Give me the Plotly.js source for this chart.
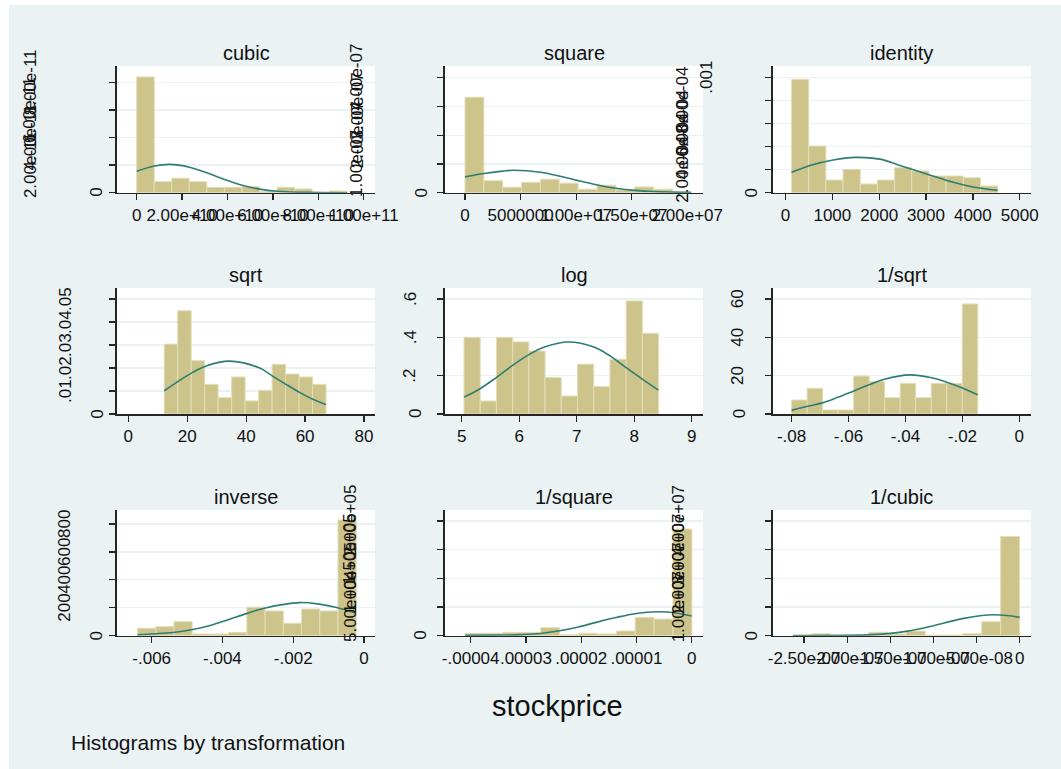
<!DOCTYPE html>
<html>
<head>
<meta charset="utf-8">
<script src="https://cdn.plot.ly/plotly-3.0.1.min.js"></script>
<style>
html,body{margin:0;padding:0;background:#ffffff;}
#chart{width:1061px;height:769px;}
</style>
</head>
<body>
<div id="chart"></div>
<script>
// ---------------- DATA ----------------
const panelNames = ["cubic", "square", "identity", "sqrt", "log", "1/sqrt", "inverse", "1/square", "1/cubic"];

// histogram bins: left edge of the first bin and bin width, per panel
const binStart = [0, 0, 128, 12.18, 5.04, -0.08, -0.0064, -4.1e-5, -2.63e-7];
const binWidth = [7.725e9, 1.696e6, 366.8, 4.577, 0.282, 0.00545, 0.000515, 3.42e-6, 2.19e-8];

// densities (12 bins each)
const cubicDensity    = [8.39e-11, 0.80e-11, 1.05e-11, 0.80e-11, 0.39e-11, 0.39e-11, 0.44e-11, 0.07e-11, 0.39e-11, 0.27e-11, 0, 0.12e-11];
const squareDensity   = [3.32e-7, 0.42e-7, 0.19e-7, 0.36e-7, 0.47e-7, 0.33e-7, 0.12e-7, 0.26e-7, 0.09e-7, 0.20e-7, 0.12e-7, 0.035e-7];
const identityDensity = [9.86e-4, 4.06e-4, 1.10e-4, 2.03e-4, 0.76e-4, 1.10e-4, 2.17e-4, 1.89e-4, 1.45e-4, 1.45e-4, 1.30e-4, 0.58e-4];
const sqrtDensity     = [0.0304, 0.0449, 0.0232, 0.0129, 0.0071, 0.0161, 0.0057, 0.0103, 0.0216, 0.0174, 0.0161, 0.0129];
const logDensity      = [0.40, 0.068, 0.40, 0.376, 0.329, 0.19, 0.094, 0.26, 0.143, 0.286, 0.59, 0.421];
const invSqrtDensity  = [7.3, 13.4, 2.1, 2.1, 19.8, 16.9, 8.5, 16.0, 8.5, 16.0, 16.0, 57.4];
const inverseDensity  = [53, 64.5, 100, 12, 12, 24, 204, 177, 89, 191, 177, 829];
const invSquareDensity= [4200, 4200, 5900, 5900, 13900, 1500, 4200, 3000, 8200, 32000, 29000, 186000];
const invCubicDensity = [3.5e5, 7e5, 2e5, 2e5, 1.2e6, 6e5, 1.6e6, 2e5, 2e5, 7e5, 4.9e6, 3.46e7];

// normal-density overlay curves
const cubicCurveX     = [0, 0.78e10, 1.45e10, 2.32e10, 3.12e10, 3.87e10, 4.64e10, 5.41e10, 6.18e10, 7.5e10, 9.27e10];
const cubicCurveY     = [1.55e-11, 1.93e-11, 2.05e-11, 1.85e-11, 1.42e-11, 0.95e-11, 0.54e-11, 0.26e-11, 0.11e-11, 0.02e-11, 0];
const squareCurveX    = [0, 1.7e6, 3.38e6, 4.34e6, 6.8e6, 8.47e6, 1.017e7, 1.19e7, 1.355e7, 1.53e7, 1.7e7, 2.035e7];
const squareCurveY    = [0.55e-7, 0.67e-7, 0.75e-7, 0.78e-7, 0.71e-7, 0.58e-7, 0.42e-7, 0.27e-7, 0.155e-7, 0.08e-7, 0.04e-7, 0.008e-7];
const identityCurveX  = [128, 505, 1017, 1480, 2015, 2442, 3013, 3581, 4000, 4530];
const identityCurveY  = [1.77e-4, 2.35e-4, 2.84e-4, 3.07e-4, 2.92e-4, 2.37e-4, 1.63e-4, 0.90e-4, 0.50e-4, 0.21e-4];
const sqrtCurveX      = [12.18, 16.9, 21.7, 26.2, 34.4, 44.6, 48.7, 53.4, 57.9, 62.6, 67.1];
const sqrtCurveY      = [0.0101, 0.0142, 0.0180, 0.0208, 0.0230, 0.0200, 0.0167, 0.0130, 0.0096, 0.0064, 0.0041];
const logCurveX       = [5.04, 5.32, 5.6, 5.89, 6.17, 6.45, 6.86, 7.31, 7.58, 7.86, 8.14, 8.42];
const logCurveY       = [0.088, 0.132, 0.19, 0.255, 0.31, 0.351, 0.376, 0.348, 0.303, 0.242, 0.182, 0.125];
const invSqrtCurveX   = [-0.08, -0.0747, -0.0692, -0.0638, -0.0583, -0.0528, -0.0474, -0.0384, -0.0311, -0.0255, -0.02, -0.0146];
const invSqrtCurveY   = [1.9, 3.9, 5.8, 8.7, 11.9, 15.2, 18.1, 20.4, 19.0, 16.6, 13.6, 10.0];
const inverseCurveX   = [-0.0064, -0.0054, -0.00484, -0.00432, -0.00384, -0.00332, -0.00282, -0.00181, -0.00126, -0.00077, -0.00025];
const inverseCurveY   = [7, 23, 44, 75, 114, 158, 197, 237, 226, 202, 163];
const invSquareCurveX = [-4.1e-5, -3.42e-5, -3.07e-5, -2.73e-5, -2.39e-5, -2.05e-5, -1.71e-5, -1.37e-5, -1.03e-5, -6.0e-6, -3.4e-6, 0];
const invSquareCurveY = [600, 1100, 1900, 3800, 8500, 15300, 23700, 31600, 38400, 41800, 40600, 34500];
const invCubicCurveX  = [-2.63e-7, -1.76e-7, -1.53e-7, -1.32e-7, -1.09e-7, -8.75e-8, -6.5e-8, -4.4e-8, -3.06e-8, -1.5e-8, 0];
const invCubicCurveY  = [5e3, 2.8e5, 7.2e5, 1.5e6, 2.85e6, 4.45e6, 6.05e6, 7.05e6, 7.3e6, 7.05e6, 6.4e6];

// x-axis ticks
const xTickVals = [
  [0, 2e10, 4e10, 6e10, 8e10, 1e11],
  [0, 5e6, 1e7, 1.5e7, 2e7],
  [0, 1000, 2000, 3000, 4000, 5000],
  [0, 20, 40, 60, 80],
  [5, 6, 7, 8, 9],
  [-0.08, -0.06, -0.04, -0.02, 0],
  [-0.006, -0.004, -0.002, 0],
  [-4e-5, -3e-5, -2e-5, -1e-5, 0],
  [-2.5e-7, -2e-7, -1.5e-7, -1e-7, -5e-8, 0]
];
const xTickText = [
  ["0", "2.00e+10", "4.00e+10", "6.00e+10", "8.00e+10", "1.00e+11"],
  ["0", "5000000", "1.00e+07", "1.50e+07", "2.00e+07"],
  ["0", "1000", "2000", "3000", "4000", "5000"],
  ["0", "20", "40", "60", "80"],
  ["5", "6", "7", "8", "9"],
  ["-.08", "-.06", "-.04", "-.02", "0"],
  ["-.006", "-.004", "-.002", "0"],
  ["-.00004", ".00003", ".00002", ".00001", "0"],
  ["-2.50e-07", "-2.00e-07", "-1.50e-07", "-1.00e-07", "-5.00e-08", "0"]
];
// y-axis ticks
const yTickVals = [
  [0, 2e-11, 4e-11, 6e-11, 8e-11],
  [0, 1e-7, 2e-7, 3e-7, 4e-7],
  [0, 2e-4, 4e-4, 6e-4, 8e-4, 1e-3],
  [0, 0.01, 0.02, 0.03, 0.04, 0.05],
  [0, 0.2, 0.4, 0.6],
  [0, 20, 40, 60],
  [0, 200, 400, 600, 800],
  [0, 5e4, 1e5, 1.5e5, 2e5],
  [0, 1e7, 2e7, 3e7, 4e7]
];
const yTickText = [
  ["0", "2.00e-11", "4.00e-11", "6.00e-11", "8.00e-11"],
  ["0", "1.00e-07", "2.00e-07", "3.00e-07", "4.00e-07"],
  ["0", "2.00e-04", "4.00e-04", "6.00e-04", "8.00e-04", ".001"],
  ["0", ".01", ".02", ".03", ".04", ".05"],
  ["0", ".2", ".4", ".6"],
  ["0", "20", "40", "60"],
  ["0", "200", "400", "600", "800"],
  ["0", "5.00e+04", "1.00e+05", "1.50e+05", "2.00e+05"],
  ["0", "1.00e+07", "2.00e+07", "3.00e+07", "4.00e+07"]
];

const densities = [cubicDensity, squareDensity, identityDensity, sqrtDensity, logDensity, invSqrtDensity, inverseDensity, invSquareDensity, invCubicDensity];
const curveXs = [cubicCurveX, squareCurveX, identityCurveX, sqrtCurveX, logCurveX, invSqrtCurveX, inverseCurveX, invSquareCurveX, invCubicCurveX];
const curveYs = [cubicCurveY, squareCurveY, identityCurveY, sqrtCurveY, logCurveY, invSqrtCurveY, inverseCurveY, invSquareCurveY, invCubicCurveY];

// ---------------- LAYOUT GEOMETRY ----------------
const W = 1061, H = 769;
const colLeft = [117, 445, 772.5], colRight = [375, 703, 1031];
const rowTop = [66, 288, 510], rowBottom = [192.7, 414, 635.7];
const xRanges = [[-8.68e9, 1.0498e11], [-1.8e6, 2.141e7], [-277.8, 5241], [-3.84, 83.73], [4.71, 9.196],
                 [-0.0867, 0.0041], [-0.00698, 0.000311], [-4.465e-5, 2.05e-6], [-2.867e-7, 1.31e-8]];
const yTops = [9.18e-11, 4.407e-7, 1.1017e-3, 0.0548, 0.6574, 65.74, 900, 2.192e5, 4.384e7];
// horizontal pixel position of each rotated y label (Stata's odd placement)
const yLabelPx = [
  [97, 30, 30, 30, 30],
  [421.7, 357, 357, 357, 357],
  [751.7, 683, 683, 683, 683, 707],
  [96.7, 65, 65, 65, 65, 65],
  [415, 410, 410, 410],
  [739.3, 737.3, 737.3, 737.3],
  [96.7, 65, 65, 65, 65],
  [421, 350, 350, 350, 350],
  [751.7, 678.3, 678.3, 678.3, 678.3]
];

const FONT = "Liberation Sans, Arial, Helvetica, sans-serif";
const BG = "#EAF2F3";
const BAR = "#CCC48A";
const BAR_EDGE = "#E3DEB8";
const CURVE = "#2D7D73";
const AXIS = "#262626";

const px = v => v / W;
const py = v => 1 - v / H;

const traces = [];
const layout = {
  width: W, height: H,
  margin: {l: 0, r: 0, t: 0, b: 0, pad: 0},
  paper_bgcolor: BG,
  plot_bgcolor: "#ffffff",
  showlegend: false,
  bargap: 0,
  font: {family: FONT, color: "#111111"},
  annotations: [],
  shapes: [
    {type: "rect", xref: "paper", yref: "paper", x0: 0, x1: 1, y0: py(5), y1: 1, fillcolor: "#ffffff", line: {width: 0}, layer: "below"},
    {type: "rect", xref: "paper", yref: "paper", x0: 0, x1: px(9), y0: 0, y1: 1, fillcolor: "#ffffff", line: {width: 0}, layer: "below"}
  ]
};

for (let i = 0; i < 9; i++) {
  const n = i === 0 ? "" : String(i + 1);
  const c = i % 3, r = Math.floor(i / 3);
  const xa = "x" + n, ya = "y" + n;

  traces.push({
    type: "bar",
    x0: binStart[i] + binWidth[i] / 2,
    dx: binWidth[i],
    width: binWidth[i],
    y: densities[i],
    xaxis: xa, yaxis: ya,
    marker: {color: BAR, line: {color: BAR_EDGE, width: 1}},
    hoverinfo: "skip"
  });
  traces.push({
    type: "scatter", mode: "lines",
    x: curveXs[i], y: curveYs[i],
    xaxis: xa, yaxis: ya,
    line: {color: CURVE, width: 1.6, shape: "spline", smoothing: 1},
    hoverinfo: "skip"
  });

  layout["xaxis" + n] = {
    domain: [px(colLeft[c]), px(colRight[c])],
    range: xRanges[i],
    anchor: ya,
    tickmode: "array", tickvals: xTickVals[i], ticktext: xTickText[i],
    tickangle: 0,
    ticks: "outside", ticklen: 6, tickwidth: 1.3, tickcolor: AXIS,
    showline: true, linecolor: AXIS, linewidth: 1.6,
    showgrid: false, zeroline: false,
    tickfont: {family: FONT, size: 17, color: "#111111"},
    fixedrange: true
  };
  layout["yaxis" + n] = {
    domain: [py(rowBottom[r]), py(rowTop[r])],
    range: [0, yTops[i]],
    anchor: xa,
    tickmode: "array", tickvals: yTickVals[i],
    showticklabels: false,
    ticks: "outside", ticklen: 6, tickwidth: 1.3, tickcolor: AXIS,
    showline: true, linecolor: AXIS, linewidth: 1.6,
    showgrid: true, gridcolor: BG, gridwidth: 1.3,
    zeroline: false,
    fixedrange: true
  };

  // panel title
  layout.annotations.push({
    xref: "paper", yref: "paper",
    x: px((colLeft[c] + colRight[c]) / 2), y: py(rowTop[r] - 13),
    text: panelNames[i], showarrow: false,
    xanchor: "center", yanchor: "middle",
    font: {family: FONT, size: 20, color: "#111111"}
  });

  // rotated y tick labels
  yTickVals[i].forEach((v, k) => {
    layout.annotations.push({
      xref: "paper", yref: ya,
      x: px(yLabelPx[i][k]), y: v,
      text: yTickText[i][k], showarrow: false,
      textangle: -90,
      xanchor: "center", yanchor: "middle",
      font: {family: FONT, size: 17, color: "#111111"}
    });
  });
}

// overall x title and note
layout.annotations.push({
  xref: "paper", yref: "paper", x: px(557), y: py(706),
  text: "stockprice", showarrow: false, xanchor: "center", yanchor: "middle",
  font: {family: FONT, size: 29, color: "#111111"}
});
layout.annotations.push({
  xref: "paper", yref: "paper", x: px(69), y: py(742),
  text: "Histograms by transformation", showarrow: false, xanchor: "left", yanchor: "middle",
  font: {family: FONT, size: 21, color: "#111111"}
});

Plotly.newPlot("chart", traces, layout, {staticPlot: true, displayModeBar: false});
</script>
</body>
</html>
